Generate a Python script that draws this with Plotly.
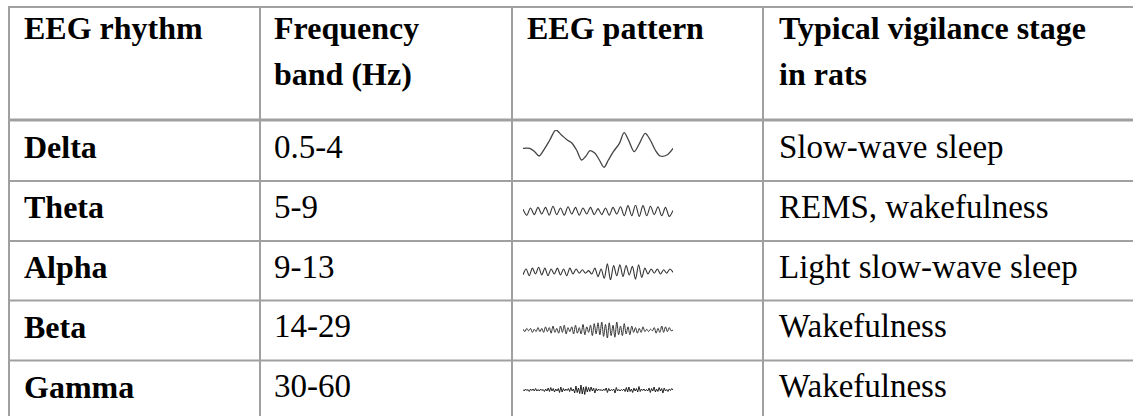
import plotly.graph_objects as go

# ---------------- data ----------------
header_line1 = ["EEG rhythm", "Frequency", "EEG pattern", "Typical vigilance stage"]
header_line2 = ["", "band (Hz)", "", "in rats"]
rhythms = ["Delta", "Theta", "Alpha", "Beta", "Gamma"]
bands = ["0.5-4", "5-9", "9-13", "14-29", "30-60"]
stages = ["Slow-wave sleep", "REMS, wakefulness", "Light slow-wave sleep",
          "Wakefulness", "Wakefulness"]

delta_t = [0, 20, 35, 48, 65, 80, 98, 115, 132, 145, 160, 175, 188, 200, 215,
           228, 242, 255, 270, 288, 302, 315, 332, 348, 365, 380, 395, 410, 430, 448]
delta_v = [2, 2, -8, -21, 2, 27, 57, 42, 27, 19, -3, -33, -21, -5, -13,
           -33, -55, -33, -8, 17, 49, 27, -8, 17, 47, 27, -3, -21, -18, 2]

theta_v = [0.3, -0.7, 0.5, -0.6, 0.6, -0.5, 0.6, -0.7, 0.8, -0.6, 0.5, -0.7, 0.7, -0.5,
           0.6, -0.7, 0.5, -0.5, 0.6, -0.6, 0.4, -0.6, 0.5, -0.7, 0.6, -0.5, 0.7, -0.8,
           0.9, -0.8, 1.0, -0.9, 0.9, -0.8, 0.8, -0.6, 0.7, -0.8, 0.6, -0.9, 0.1]

alpha_v = [-0.4, 0.3, -0.5, 0.4, -0.3, 0.5, -0.4, 0.4, -0.5, 0.3, -0.3, 0.4, -0.4, 0.3,
           -0.5, 0.4, -0.3, 0.3, -0.2, 0.2, -0.2, 0.1, -0.3, 0.4, -0.6, 0.3, -0.8, 0.9,
           -1.0, 0.7, -0.5, 0.8, -0.6, 0.7, -0.4, 0.6, -0.9, 0.8, -0.7, 0.4, -0.3, 0.3,
           -0.2, 0.3, -0.3, 0.2, -0.2, 0.3, -0.1]

beta_v = [0.1, -0.2, 0.2, -0.1, 0.2, -0.3, 0.1, -0.2, 0.3, -0.2, 0.2, -0.3, 0.4, -0.2,
          0.3, -0.4, 0.5, -0.3, 0.2, -0.4, 0.5, -0.3, 0.6, -0.5, 0.3, -0.2, 0.4, -0.5,
          0.6, -0.4, 0.3, -0.5, 0.7, -0.6, 0.4, -0.3, 0.6, -0.7, 0.8, -0.5, 0.9, -0.6,
          1.0, -0.8, 0.7, -1.0, 0.9, -0.7, 0.6, -0.9, 1.0, -0.6, 0.5, -0.7, 0.8, -0.5,
          0.4, -0.6, 0.5, -0.3, 0.3, -0.4, 0.2, -0.3, 0.4, -0.2, 0.1, -0.2, 0.1, -0.1,
          0.3, -0.4, 0.2, -0.3, 0.5, -0.3, 0.4, -0.2, 0.3, -0.1, 0.0]

gamma_v = [0.1, -0.2, 0.2, -0.1, 0.1, -0.3, 0.2, -0.1, 0.2, -0.2,
           0.3, -0.2, 0.1, -0.2, 0.2, -0.1, 0.1, -0.3, 0.2, -0.2,
           0.4, -0.3, 0.5, -0.2, 0.3, -0.4, 0.2, -0.2, 0.3, -0.5,
           0.6, -0.4, 0.3, -0.2, 0.2, -0.1, 0.3, -0.3, 0.5, -0.2,
           0.2, -0.6, 0.8, -0.5, 0.4, -0.7, 1.0, -0.8, 0.6, -0.9,
           0.7, -0.4, 0.5, -0.3, 0.6, -0.2, 0.4, -0.6, 0.3, -0.2,
           0.2, -0.1, 0.1, -0.2, 0.2, -0.1, 0.4, -0.5, 0.3, -0.2,
           0.1, -0.1, 0.2, -0.6, 0.5, -0.2, 0.1, -0.2, 0.1, -0.1,
           0.2, -0.3, 0.5, -0.4, 0.6, -0.3, 0.2, -0.5, 0.4, -0.2,
           0.3, -0.4, 0.7, -0.3, 0.2, -0.1, 0.2, -0.2, 0.1, -0.2,
           0.4, -0.5, 0.3, -0.2, 0.6, -0.4, 0.2, -0.3, 0.5, -0.2,
           0.3, -0.6, 0.4, -0.2, 0.1, -0.3, 0.2, -0.1, 0.3, 0.0]

# ---------------- layout constants (page pixels) ----------------
W, H = 1133, 416
col_lines = [9, 260, 512, 763]
text_x = [24, 274, 527, 779]
row_tops = [121, 181, 241, 300.5, 360.5]
top_y = 7
header_bottom = 120
header_baselines = [39, 85]
row_baseline_offset = 37
FONT = "Liberation Serif, Times New Roman, serif"
FS_BOLD = 32
FS_REG = 33
GRID = "#a0a0a0"

wave_x0, wave_x1 = 523, 673
# (top px, bottom px, y-range) per waveform
wave_boxes = [(130, 168, 57), (205, 217, 1.0), (263, 280, 1.0), (322, 338, 1.0), (385, 395, 1.0)]

fig = go.Figure()

fig.update_layout(
    xaxis=dict(range=[0, W], domain=[0, 1], visible=False, fixedrange=True),
    yaxis=dict(range=[H, 0], domain=[0, 1], visible=False, fixedrange=True),
)
fig.add_trace(go.Scatter(x=[0, W], y=[0, H], mode="markers",
                         marker=dict(opacity=0), hoverinfo="skip", showlegend=False))

series = [(delta_t, delta_v, "spline", "#444444", 1.3),
          (None, theta_v, "spline", "#333333", 1.1),
          (None, alpha_v, "spline", "#333333", 1.1),
          (None, beta_v, "spline", "#333333", 1.0),
          (None, gamma_v, "linear", "#111111", 0.9)]

for i, ((xs, ys, shp, col, lw), (tp, bt, rng)) in enumerate(zip(series, wave_boxes)):
    n = i + 2
    xa, ya = f"xaxis{n}", f"yaxis{n}"
    xs_use = xs if xs is not None else list(range(len(ys)))
    fig.add_trace(go.Scatter(x=xs_use, y=ys, mode="lines",
                             line=dict(color=col, width=lw, shape=shp, smoothing=0.9),
                             xaxis=f"x{n}", yaxis=f"y{n}", hoverinfo="skip",
                             showlegend=False))
    fig.update_layout({
        xa: dict(domain=[wave_x0 / W, wave_x1 / W], range=[xs_use[0], xs_use[-1]],
                 visible=False, fixedrange=True, anchor=f"y{n}"),
        ya: dict(domain=[1 - bt / H, 1 - tp / H], range=[-rng, rng],
                 visible=False, fixedrange=True, anchor=f"x{n}"),
    })

shapes = []
def hline(y, w=2):
    shapes.append(dict(type="line", xref="x", yref="y", x0=col_lines[0] - 1, x1=W + 10,
                       y0=y, y1=y, line=dict(color=GRID, width=w)))
def vline(x, w=2):
    shapes.append(dict(type="line", xref="x", yref="y", x0=x, x1=x,
                       y0=top_y - 1, y1=H + 10, line=dict(color=GRID, width=w)))
hline(top_y)
hline(header_bottom, 3)
for y in row_tops[1:]:
    hline(y)
for x in col_lines:
    vline(x)

annotations = []
def txt(x, y_base, s, bold=False):
    fs = FS_BOLD if bold else FS_REG
    annotations.append(dict(x=x, y=y_base - 0.338 * fs, xref="x", yref="y", text=s,
                            showarrow=False, xanchor="left", yanchor="middle",
                            borderpad=0, borderwidth=0,
                            font=dict(family=FONT, size=fs, color="black",
                                      weight="bold" if bold else "normal")))

for j in range(4):
    txt(text_x[j], header_baselines[0], header_line1[j], True)
    if header_line2[j]:
        txt(text_x[j], header_baselines[1], header_line2[j], True)

for r in range(5):
    base = row_tops[r] + row_baseline_offset
    txt(text_x[0], base, rhythms[r], True)
    txt(text_x[1], base, bands[r])
    txt(text_x[3], base, stages[r])

fig.update_layout(width=W, height=H, margin=dict(l=0, r=0, t=0, b=0),
                  paper_bgcolor="white", plot_bgcolor="white",
                  shapes=shapes, annotations=annotations, hovermode=False,
                  showlegend=False)

fig.write_html("out.html", config={"displayModeBar": False},
               post_script="document.body.style.margin='0';document.body.style.overflow='hidden';")
